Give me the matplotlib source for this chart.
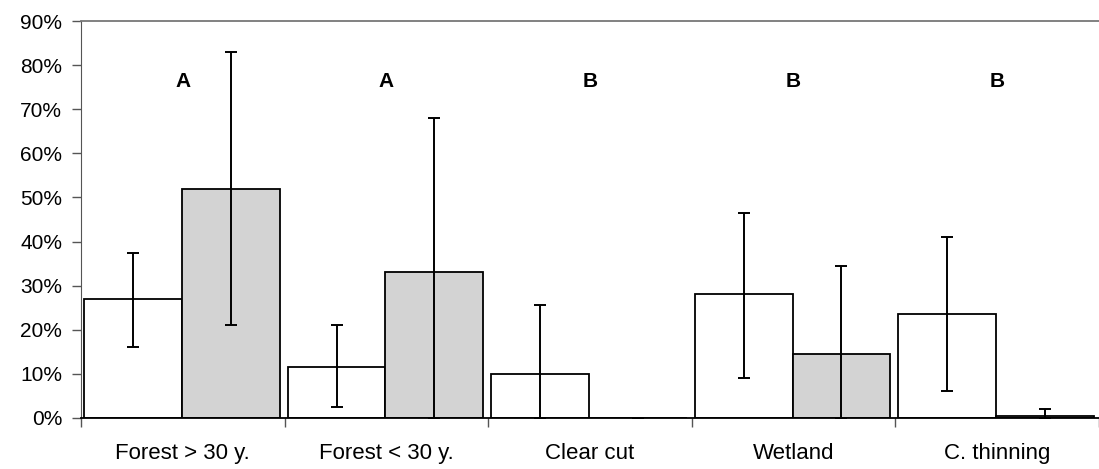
import matplotlib.pyplot as plt
import numpy as np

plt.rcParams['font.family'] = ['Liberation Sans', 'DejaVu Sans']

categories = ['Forest > 30 y.', 'Forest < 30 y.', 'Clear cut', 'Wetland', 'C. thinning']
letters = ['A', 'A', 'B', 'B', 'B']

# values in %
white = [27, 11.5, 10, 28, 23.5]
white_lo = [16, 2.5, 0, 9, 6]
white_hi = [37.5, 21, 25.5, 46.5, 41]

gray = [52, 33, 0, 14.5, 0.5]
gray_lo = [21, 0, 0, 0, 0]
gray_hi = [83, 68, 0, 34.5, 2]

x = np.arange(len(categories))
w = 0.48

fig = plt.figure(figsize=(10.99, 4.69), dpi=100)
ax = fig.add_axes([0.0737, 0.109, 0.9263, 0.846])

white = np.array(white)
gray = np.array(gray)
werr = [white - np.array(white_lo), np.array(white_hi) - white]
gerr = [gray - np.array(gray_lo), np.array(gray_hi) - gray]

ax.bar(x - w / 2 - 0.005, white, w, color='white', edgecolor='black', linewidth=1.3, zorder=2)
ax.bar(x + w / 2 - 0.005, gray, w, color='#d3d3d3', edgecolor='black', linewidth=1.3, zorder=2)
ax.errorbar(x - w / 2 - 0.005, white, yerr=werr, fmt='none', ecolor='black',
            elinewidth=1.4, capsize=4, capthick=1.4, zorder=3)
ax.errorbar(x + w / 2 - 0.005, gray, yerr=gerr, fmt='none', ecolor='black',
            elinewidth=1.4, capsize=4, capthick=1.4, zorder=3)

for i, t in enumerate(letters):
    ax.text(x[i], 76.4, t, ha='center', va='center', fontsize=15, fontweight='bold')

ax.set_xlim(-0.5, 4.5)
ax.set_ylim(0, 90)
ax.set_yticks(range(0, 91, 10))
ax.set_yticklabels([f'{v}%' for v in range(0, 91, 10)], fontsize=15)
ax.tick_params(axis='y', length=6.5, width=1, color='#555555', pad=7)

ax.set_xticks(x)
ax.set_xticklabels(categories, fontsize=16)
ax.tick_params(axis='x', which='major', length=0, pad=18)
ax.set_xticks(np.arange(-0.5, 4.6, 1), minor=True)
ax.tick_params(axis='x', which='minor', length=6.5, width=1, color='#555555')

ax.spines['right'].set_visible(False)
ax.spines['top'].set_color('#777777')
ax.spines['top'].set_linewidth(1.3)
ax.spines['left'].set_color('#555555')
ax.spines['bottom'].set_color('black')
ax.spines['bottom'].set_linewidth(1.3)

fig.savefig('out.png', dpi=100)
